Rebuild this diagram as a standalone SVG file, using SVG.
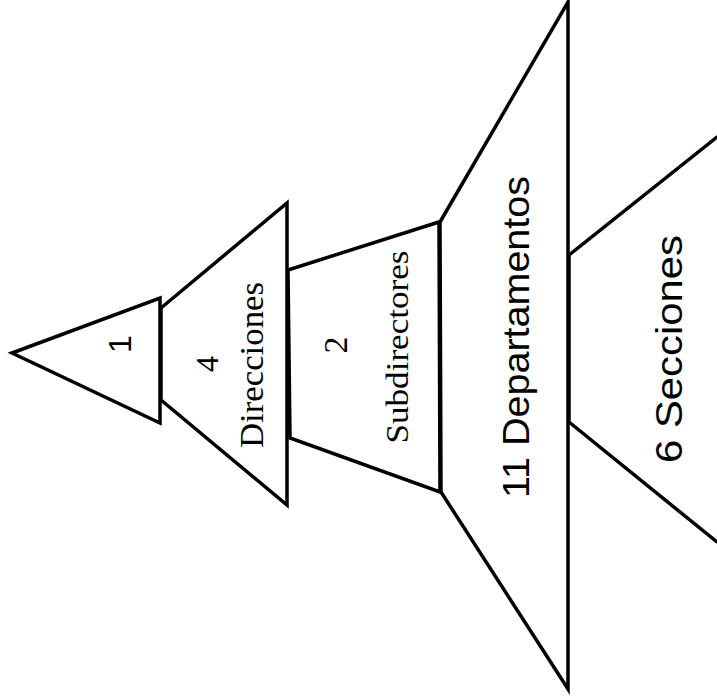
<svg xmlns="http://www.w3.org/2000/svg" width="717" height="696" viewBox="0 0 717 696">
<style>
.s{fill:none;stroke:#000;stroke-width:3.5;stroke-linejoin:miter;stroke-linecap:round}
.serif{font-family:"Liberation Serif","Times New Roman",serif;fill:#000}
.sans{font-family:"Liberation Sans",Arial,sans-serif;fill:#000}
</style>
<rect width="717" height="696" fill="#fff"/>
<g id="connectors"></g>
<g id="level1">
<polygon class="s" points="12,353 160,298 160,423"/>
<text class="sans" font-size="32" text-anchor="middle" transform="translate(131,344) rotate(-90)">1</text>
</g>
<g id="level2">
<polygon class="s" points="161,308 287,203 287,505 161,400"/>
<text class="serif" font-size="32" text-anchor="middle" transform="translate(218,364) rotate(-90)">4</text>
<text class="serif" font-size="33" text-anchor="middle" textLength="166" lengthAdjust="spacingAndGlyphs" transform="translate(263,365) rotate(-90)">Direcciones</text>
</g>
<g id="level3">
<polygon class="s" points="288,270 439,222 440,492 290,438"/>
<text class="serif" font-size="34" text-anchor="middle" transform="translate(347,345) rotate(-90)">2</text>
<text class="serif" font-size="32" text-anchor="middle" textLength="193" lengthAdjust="spacingAndGlyphs" transform="translate(408,347) rotate(-90)">Subdirectores</text>
</g>
<g id="level4">
<polygon class="s" points="440,222 568,2 568,689 441,492"/>
<text class="sans" font-size="37" text-anchor="middle" textLength="322" lengthAdjust="spacingAndGlyphs" transform="translate(529,337) rotate(-90)">11 Departamentos</text>
</g>
<g id="level5">
<polyline class="s" points="717,137 569,255 569,422 717,542"/>
<text class="sans" font-size="37" text-anchor="middle" textLength="228" lengthAdjust="spacingAndGlyphs" transform="translate(682,349) rotate(-90)">6 Secciones</text>
</g>
</svg>
